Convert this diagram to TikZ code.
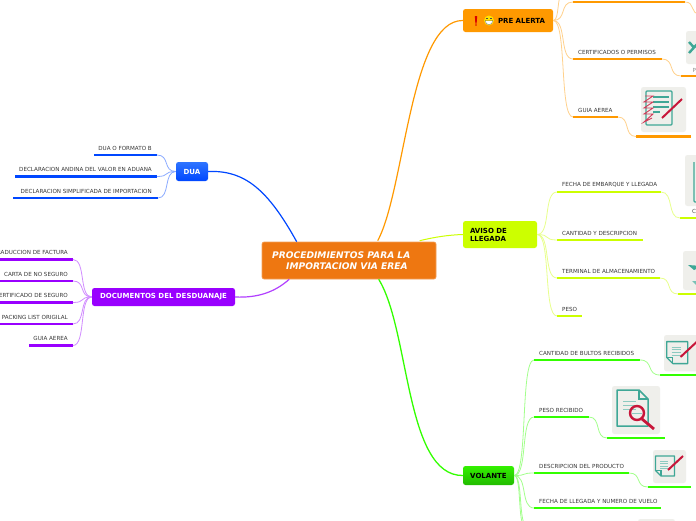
\documentclass[tikz,border=0pt]{standalone}
\usepackage{fontspec}
\setmainfont{DejaVu Sans}
\usetikzlibrary{calc}
\definecolor{cBlue}{HTML}{0047FF}
\definecolor{cBlueTop}{HTML}{2E74FF}
\definecolor{cPurple}{HTML}{9900FF}
\definecolor{cOrange}{HTML}{FF9900}
\definecolor{cLime}{HTML}{CCFF00}
\definecolor{cGreen}{HTML}{33FF00}
\definecolor{cGreenTop}{HTML}{33F000}
\definecolor{cGreenBot}{HTML}{22BB00}
\definecolor{cRoot}{HTML}{EE7711}
\definecolor{cTeal}{HTML}{3FA796}
\definecolor{cRed}{HTML}{C8163A}
\definecolor{cBox}{HTML}{EFEFEB}
\tikzset{
  x=1pt,y=-1pt,
  leaftext/.style={inner sep=0pt,text=black!78,font=\fontsize{5.6}{6.5}\selectfont},
  branch/.style={rounded corners=2.5pt,inner sep=0pt,font=\fontsize{7}{8}\selectfont\bfseries},
  rootbox/.style={rounded corners=2pt,fill=cRoot,draw=cRoot!70!white,line width=.6pt,minimum width=174pt,minimum height=37pt,inner sep=0pt},
  iconbox/.style={fill=cBox,rounded corners=2.5pt},
  tealline/.style={draw=cTeal,line width=1.3pt},
  softline/.style={draw=cTeal!60!white,line width=.9pt},
  penline/.style={draw=cRed,line width=2pt},
}
\newcommand{\leafR}[7]{%
  \coordinate (#1-l) at (#3,#5); \coordinate (#1-r) at (#4,#5);
  \draw[#2,line width=2.3pt] (#1-l) -- (#1-r);
  \node[leaftext,anchor=west] (#1-t) at (#6,#5-6.8) {#7};}
\newcommand{\leafL}[7]{%
  \coordinate (#1-l) at (#3,#5); \coordinate (#1-r) at (#4,#5);
  \draw[#2,line width=2.3pt] (#1-l) -- (#1-r);
  \node[leaftext,anchor=east] (#1-t) at (#6,#5-6.8) {#7};}
% soft S-shaped connector
\newcommand{\conn}[3]{%
  \draw[#1!45!white,line width=.8pt] let \p1=(#2),\p2=(#3) in
    (\p1) .. controls ({\x1+(\x2-\x1)*.7},\y1) and ({\x1+(\x2-\x1)*.3},\y2) .. (\p2);}
\newcommand{\noteicon}[3]{%
  \begin{scope}[shift={(#1,#2)},x=#3pt,y=-#3pt]
    \fill[iconbox] (0,0) rectangle (33,33);
    \draw[tealline,line join=round] (2.5,6) -- (21.5,6) -- (21.5,26) -- (8,26) -- (2.5,20.5) -- cycle;
    \draw[tealline] (2.5,20.5) -- (8,20.5) -- (8,26);
    \foreach \yy in {11,13.5,16,18.5} \draw[softline] (7,\yy) -- (15,\yy);
    \draw[penline] (15,20) -- (30,6);
  \end{scope}}
\newcommand{\lensicon}[2]{%
  \begin{scope}[shift={(#1,#2)}]
    \fill[iconbox] (0,0) rectangle (48,48);
    \draw[tealline,line join=round,line width=1.5pt] (5,4) -- (27,4) -- (36,13) -- (36,40) -- (5,40) -- cycle;
    \draw[tealline] (27,4) -- (27,13) -- (36,13);
    \foreach \yy in {15,19,23} \draw[softline] (11,\yy) -- (24,\yy);
    \draw[cRed,line width=2.4pt] (25,27) circle (7);
    \draw[softline] (20,27) -- (30,27);
    \draw[cRed,line width=2.8pt] (30,33) -- (42,43);
  \end{scope}}
\newcommand{\padicon}[2]{%
  \begin{scope}[shift={(#1,#2)}]
    \fill[iconbox] (0,0) rectangle (45,45);
    \draw[tealline,rounded corners=1pt] (5,4) rectangle (31,38);
    \foreach \yy/\xx in {10/28,15/28,20/28,25/19} \draw[cTeal,line width=1.2pt] (12,\yy) -- (\xx,\yy);
    \draw[cRed!85!white,line width=.9pt] (4,9) -- (12,9) -- (3,15) -- (12,15) -- (3,21) -- (12,21) -- (3,27) -- (12,27) -- (3,35) -- (11,31);
    \draw[penline] (21,31) -- (41,12);
  \end{scope}}
\begin{document}
\begin{tikzpicture}
\useasboundingbox (0,0) rectangle (696,520);
\clip (0,0) rectangle (696,520);
\fill[white] (0,0) rectangle (696,520);

% ---- nodes
\node[rootbox] (root) at (349,260.5) {};
\node[anchor=west,inner sep=0pt,text=white,font=\fontsize{9.1}{11}\selectfont\bfseries\itshape] (roottext) at (272,261.5)
  {\begin{tabular}{@{}l@{}}PROCEDIMIENTOS PARA LA\\\hspace{14pt}IMPORTACION VIA EREA\end{tabular}};

\node[branch,top color=cBlueTop,bottom color=cBlue,text=white,minimum width=32pt,minimum height=19pt] (dua) at (192,171.5) {DUA};
\node[branch,fill=cPurple,text=white,minimum width=143pt,minimum height=18pt] (docs) at (163.5,297) {DOCUMENTOS DEL DESDUANAJE};
\node[branch,fill=cOrange,text=black,minimum width=90pt,minimum height=23pt,text width=76pt,align=left] (pre) at (508,20.5) {\hspace*{28pt}PRE ALERTA};
\node[branch,fill=cLime,text=black,minimum width=74pt,minimum height=27pt,align=left,text width=60pt] (aviso) at (500,234.5) {AVISO DE\\LLEGADA};
\node[branch,top color=cGreenTop,bottom color=cGreenBot,text=black,minimum width=51pt,minimum height=19pt] (vol) at (488.5,475.5) {VOLANTE};

\fill[red!85!black] (474.8,16) -- (477.2,16) -- (476.6,23.5) -- (475.4,23.5) -- cycle;
\fill[red!85!black] (476,25) circle (.95);
\fill[yellow!85!orange] (489,20.5) circle (5);
\fill[white,draw=black!60,line width=.3pt] (485.2,20.5) -- (492.8,20.5) .. controls (492.8,26) and (485.2,26) .. (485.2,20.5) -- cycle;
\draw[black!70,line width=.5pt] (486,18.2) -- (488,18.2) (490,18.2) -- (492,18.2);

% ---- main connector ends on the root box
\coordinate (rDua) at ($(root.north west)+(35,0)$);
\coordinate (rDocs) at ($(root.south west)+(27.5,0)$);
\coordinate (rPre) at ($(root.north west)+(116,-1)$);
\coordinate (rAviso) at ($(root.north west)+(158,-1)$);
\coordinate (rVol) at ($(root.south west)+(117,0)$);

\draw[cBlue,line width=1.2pt] (dua.east) .. controls (245,170) and (268,190) .. (rDua);
\draw[cPurple!75!white,line width=1.2pt] (docs.east) .. controls (258,298) and (275,292) .. (rDocs);
\draw[cOrange,line width=1.2pt] (rPre) .. controls (405,190) and (410,20) .. (pre.west);
\draw[cLime,line width=1pt] (rAviso) .. controls (435,237) and (448,235) .. (aviso.west);
\draw[cGreen,line width=1.3pt] (rVol) .. controls (410,330) and (405,476) .. (vol.west);

% ---- DUA leaves
\leafL{d1}{cBlue}{94}{157}{155}{152}{DUA O FORMATO B}
\leafL{d2}{cBlue}{15}{157}{176.5}{152}{DECLARACION ANDINA DEL VALOR EN ADUANA}
\leafL{d3}{cBlue}{13}{158}{198}{152}{DECLARACION SIMPLIFICADA DE IMPORTACION}
\conn{cBlue}{dua.west}{d1-r}
\conn{cBlue}{dua.west}{d2-r}
\conn{cBlue}{dua.west}{d3-r}

% ---- DOCUMENTOS leaves
\leafL{p1}{cPurple}{-5}{73}{259.5}{68}{TRADUCCION DE FACTURA}
\leafL{p2}{cPurple}{-5}{73}{281}{68}{CARTA DE NO SEGURO}
\leafL{p3}{cPurple}{-5}{73}{302.5}{68}{CERTIFICADO DE SEGURO}
\leafL{p4}{cPurple}{-5}{73}{324}{68}{PACKING LIST ORIGILAL}
\leafL{p5}{cPurple}{29}{73}{345.5}{68}{GUIA AEREA}
\conn{cPurple}{docs.west}{p1-r}
\conn{cPurple}{docs.west}{p2-r}
\conn{cPurple}{docs.west}{p3-r}
\conn{cPurple}{docs.west}{p4-r}
\conn{cPurple}{docs.west}{p5-r}

% ---- PRE ALERTA
\leafR{a1}{cOrange}{573}{685}{2}{578}{}
\leafR{a2}{cOrange}{573}{662}{59}{578}{CERTIFICADOS O PERMISOS}
\leafR{a3}{cOrange}{573}{618}{117}{578}{GUIA AEREA}
\leafR{a2b}{cOrange}{681}{700}{76}{693}{}
\leafR{a3b}{cOrange}{636}{691}{136.5}{641}{}
\coordinate (a0off) at (563,-6);
\coordinate (a1off) at (700,14);
\conn{cOrange}{pre.east}{a1-l}
\conn{cOrange}{pre.east}{a2-l}
\conn{cOrange}{pre.east}{a3-l}
\conn{cOrange}{pre.east}{a0off}
\conn{cOrange}{a1-r}{a1off}
\conn{cOrange}{a2-r}{a2b-l}
\conn{cOrange}{a3-r}{a3b-l}
\padicon{641}{87}
\fill[iconbox] (686,31) rectangle (710,64);
\draw[cTeal,line width=2.4pt] (689,42) -- (694,47.5) -- (689,53);
\draw[cTeal,line width=2.4pt] (699,42) -- (694,47.5);
\node[inner sep=0pt,text=black!45,font=\fontsize{5.6}{6.5}\selectfont,anchor=west] (a2bt) at (692.5,70) {P};

% ---- AVISO
\leafR{v1}{cLime}{557}{661}{192}{562}{FECHA DE EMBARQUE Y LLEGADA}
\leafR{v2}{cLime}{557}{643}{240}{562}{CANTIDAD Y DESCRIPCION}
\leafR{v3}{cLime}{557}{660}{278}{562}{TERMINAL DE ALMACENAMIENTO}
\leafR{v4}{cLime}{557}{582}{316}{562}{PESO}
\leafR{v1b}{cLime}{680}{700}{218}{693}{}
\leafR{v3b}{cLime}{678}{700}{294}{693}{}
\conn{cLime}{aviso.east}{v1-l}
\conn{cLime}{aviso.east}{v2-l}
\conn{cLime}{aviso.east}{v3-l}
\conn{cLime}{aviso.east}{v4-l}
\conn{cLime}{v1-r}{v1b-l}
\conn{cLime}{v3-r}{v3b-l}
\fill[iconbox] (685,155) rectangle (710,206);
\draw[tealline,line width=1.4pt,rounded corners=1pt] (694,162) -- (694,202) -- (705,202);
\node[inner sep=0pt,text=black!70,font=\fontsize{5.6}{6.5}\selectfont,anchor=west] (v1bt) at (692,211) {C};
\fill[iconbox] (683,251) rectangle (710,290);
\fill[cTeal] (688,265) -- (702,266) -- (694,270) -- cycle;
\fill[cTeal!70!white] (692,281) -- (702,281) -- (696,285) -- cycle;

% ---- VOLANTE
\leafR{g1}{cGreen}{534}{640}{360}{539}{CANTIDAD DE BULTOS RECIBIDOS}
\leafR{g2}{cGreen}{534}{589}{417}{539}{PESO RECIBIDO}
\leafR{g3}{cGreen}{534}{629}{473}{539}{DESCRIPCION DEL PRODUCTO}
\leafR{g4}{cGreen}{534}{661}{508}{539}{FECHA DE LLEGADA Y NUMERO DE VUELO}
\leafR{g1b}{cGreen}{660}{700}{375}{665}{}
\leafR{g2b}{cGreen}{607}{665}{438}{612}{}
\leafR{g3b}{cGreen}{648}{691}{487}{653}{}
\coordinate (goff1) at (525,526);
\coordinate (goff2) at (527,526);
\conn{cGreen}{vol.east}{g1-l}
\conn{cGreen}{vol.east}{g2-l}
\conn{cGreen}{vol.east}{g3-l}
\conn{cGreen}{vol.east}{g4-l}
\conn{cGreen}{vol.east}{goff1}
\conn{cGreen}{vol.east}{goff2}
\conn{cGreen}{g1-r}{g1b-l}
\conn{cGreen}{g2-r}{g2b-l}
\conn{cGreen}{g3-r}{g3b-l}
\noteicon{664}{335}{1.1}
\lensicon{612}{386}
\noteicon{653}{450}{1}
\fill[iconbox] (638,519) rectangle (675,530);
\end{tikzpicture}
\end{document}
